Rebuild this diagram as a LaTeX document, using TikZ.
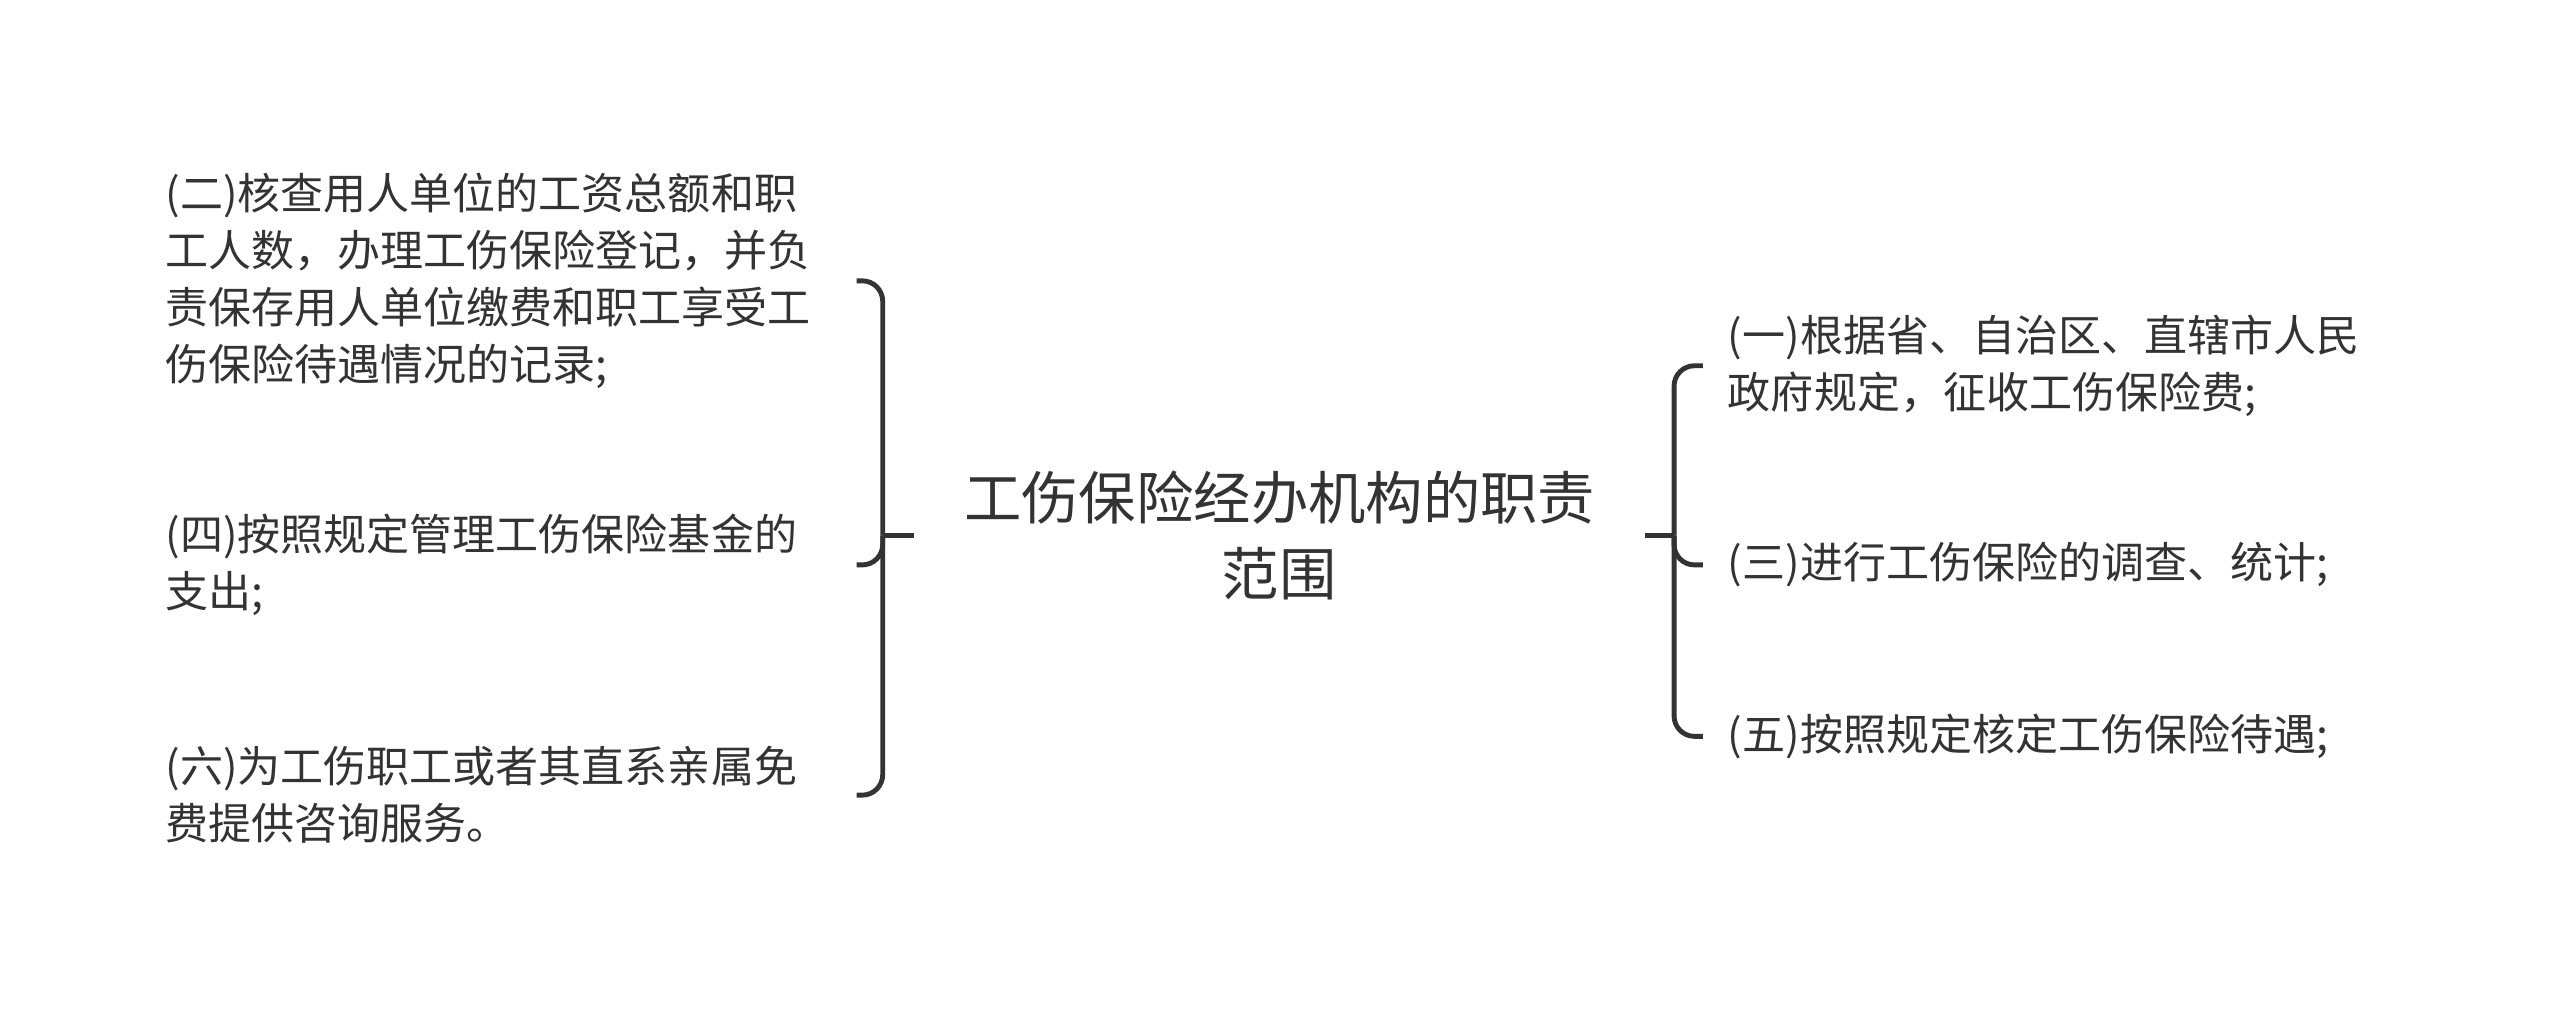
\documentclass[tikz,border=0pt]{standalone}
\usepackage{fontspec}
\newfontfamily\cjk{Noto Sans CJK SC}
\usepackage{tikz}
\definecolor{inkgray}{HTML}{333333}

\begin{document}
\begin{tikzpicture}[font=\cjk,
  leaf/.style={inner xsep=0.3cm, inner ysep=0pt, align=left, text width=8.16cm,
    text=inkgray, font=\cjk\fontsize{15pt}{19.9pt}\selectfont},
  leafr/.style={leaf, text width=8.2cm},
  root/.style={align=center, text width=7.72cm, inner xsep=0.61cm, inner ysep=0pt,
    text=inkgray, font=\cjk\fontsize{20pt}{26.7pt}\selectfont},
  brace/.style={draw=inkgray, line width=1.7pt, rounded corners=0.25cm}]

  % ---- canvas ----
  \fill[white] (0,0) rectangle (31.36,-12.46);
  \useasboundingbox (0,0) rectangle (31.36,-12.46);

  % ---- root ----
  \node[root] (root) at (15.67,-6.56)
    {工伤保险经办机构的职责\\范围};

  % ---- left side: (二), (四), (六) ----
  \node[leaf, anchor=west] (n2) at (1.72,-3.44)
    {(二)核查用人单位的工资总额和职\\工人数，办理工伤保险登记，并负\\
     责保存用人单位缴费和职工享受工\\伤保险待遇情况的记录;};
  \node[leaf, anchor=west] (n4) at (1.72,-6.92)
    {(四)按照规定管理工伤保险基金的\\支出;};
  \node[leaf, anchor=west] (n6) at (1.72,-9.74)
    {(六)为工伤职工或者其直系亲属免\\费提供咨询服务。};

  % ---- right side: (一), (三), (五) ----
  \node[leafr, anchor=west] (n1) at (20.86,-4.48)
    {(一)根据省、自治区、直辖市人民\\政府规定，征收工伤保险费;};
  \node[leafr, anchor=west] (n3) at (20.86,-6.92)
    {(三)进行工伤保险的调查、统计;};
  \node[leafr, anchor=west] (n5) at (20.86,-9.02)
    {(五)按照规定核定工伤保险待遇;};

  % ---- braces ----
  \coordinate (lj) at ([xshift=-0.38cm]root.west);
  \coordinate (rj) at ([xshift=0.36cm]root.east);
  \draw[brace] (root.west) -- (lj);
  \foreach \n in {n2,n4,n6} \draw[brace] (lj) |- (\n.east);
  \draw[brace] (root.east) -- (rj);
  \foreach \n in {n1,n3,n5} \draw[brace] (rj) |- (\n.west);

\end{tikzpicture}
\end{document}
